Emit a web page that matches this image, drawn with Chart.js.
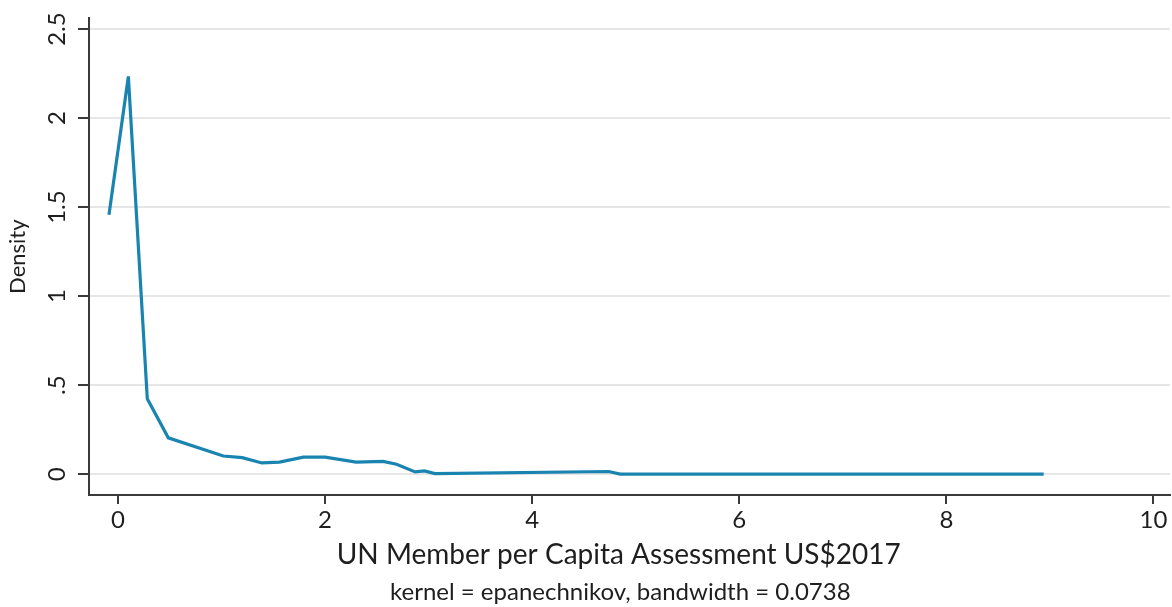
<!DOCTYPE html>
<html>
<head>
<meta charset="utf-8">
<script src="https://cdn.jsdelivr.net/npm/chart.js@4/dist/chart.umd.min.js"></script>
<style>
  html, body { margin: 0; padding: 0; background: #fff; }
  #wrap { width: 1172px; height: 607px; }
</style>
</head>
<body>
<div id="wrap"><canvas id="chart"></canvas></div>
<script>
// kernel density estimate, vertices
const xValues = [-0.087, 0.10, 0.283, 0.486, 1.017, 1.20, 1.39, 1.56, 1.79, 2.0, 2.30, 2.56, 2.69, 2.87, 2.96, 3.06, 4.74, 4.85, 8.94];
const densityValues = [1.457, 2.234, 0.424, 0.204, 0.102, 0.093, 0.063, 0.068, 0.096, 0.096, 0.068, 0.072, 0.056, 0.013, 0.018, 0.003, 0.015, 0.0, 0.0];
const xTicks = [0, 2, 4, 6, 8, 10];
const yTicks = [0, 0.5, 1, 1.5, 2, 2.5];

const FONT = 'Lato, "Open Sans", sans-serif';
const TEXT = '#1e1e1e';
const AXIS = '#3a3a3a';
// trailing spaces nudge the centred texts a little to the left, as in Stata
const PAD = '\u00a0\u00a0\u00a0';

const points = xValues.map((x, i) => ({ x: x, y: densityValues[i] }));

const ctx = document.getElementById('chart').getContext('2d');
new Chart(ctx, {
  type: 'line',
  data: {
    datasets: [{
      data: points,
      borderColor: '#1a84b1',
      borderWidth: 3.2,
      pointRadius: 0,
      tension: 0,
      fill: false
    }]
  },
  options: {
    responsive: true,
    maintainAspectRatio: false,
    animation: false,
    layout: { padding: { top: 13, right: 2, left: 0, bottom: 0 } },
    plugins: {
      legend: { display: false },
      tooltip: { enabled: false },
      subtitle: {
        display: true,
        position: 'bottom',
        fullSize: false,
        text: 'kernel = epanechnikov, bandwidth = 0.0738' + PAD,
        color: TEXT,
        font: { family: FONT, size: 24, lineHeight: 1.0 },
        padding: { top: 0, bottom: 3 }
      }
    },
    scales: {
      x: {
        type: 'linear',
        min: -0.28,
        max: 10.16,
        afterBuildTicks: (scale) => { scale.ticks = xTicks.map(v => ({ value: v })); },
        afterFit: (scale) => { scale.height = 85; },
        ticks: {
          color: TEXT,
          font: { family: FONT, size: 24 },
          padding: 2,
          maxRotation: 0,
          autoSkip: false
        },
        grid: {
          drawOnChartArea: false,
          drawTicks: true,
          tickLength: 9,
          color: AXIS,
          lineWidth: 2
        },
        border: { color: AXIS, width: 2 },
        title: {
          display: true,
          text: 'UN Member per Capita Assessment US$2017' + PAD,
          color: TEXT,
          font: { family: FONT, size: 28, lineHeight: 1.2 },
          padding: { top: 0, bottom: 8 }
        }
      },
      y: {
        type: 'linear',
        min: -0.117,
        max: 2.56,
        afterBuildTicks: (scale) => { scale.ticks = yTicks.map(v => ({ value: v })); },
        afterFit: (scale) => { scale.width = 89; },
        ticks: {
          color: TEXT,
          font: { family: FONT, size: 24 },
          minRotation: 90,
          maxRotation: 90,
          crossAlign: 'center',
          padding: 4,
          autoSkip: false,
          callback: (v) => String(v).replace(/^0\./, '.')
        },
        grid: {
          color: '#e6e6e6',
          lineWidth: 2,
          tickColor: AXIS,
          tickLength: 11,
          drawTicks: true
        },
        border: { color: AXIS, width: 2 },
        title: {
          display: true,
          text: 'Density',
          color: TEXT,
          font: { family: FONT, size: 22, lineHeight: 1.2 },
          padding: { top: 5, bottom: 0 }
        }
      }
    }
  }
});
</script>
</body>
</html>
